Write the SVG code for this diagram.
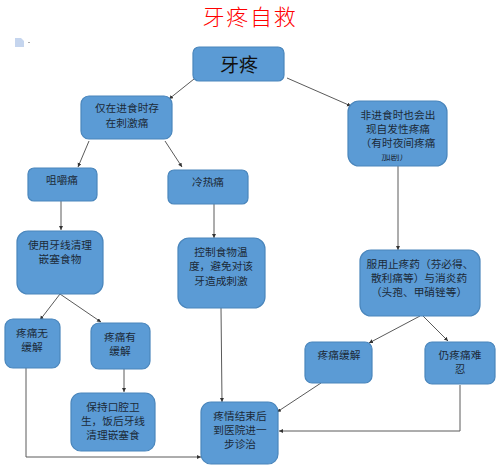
<svg xmlns="http://www.w3.org/2000/svg" width="500" height="469" viewBox="0 0 500 469">
<style>
.n{fill:#5B9BD5;stroke:#4A86BC;stroke-width:1.2}
.t{font-family:"Noto Sans CJK SC","Liberation Sans",sans-serif;font-size:10.7px;fill:#1c2a38;text-anchor:middle}
.c{fill:none;stroke:#5a5a5a;stroke-width:1;marker-end:url(#a)}
</style>
<defs>
<marker id="a" markerUnits="userSpaceOnUse" markerWidth="5" markerHeight="5" refX="4" refY="2" orient="auto"><path d="M0,0L4,2L0,4Z" fill="#333"/></marker>
<clipPath id="clip"><rect x="348" y="154.5" width="99" height="8"/></clipPath>
</defs>
<rect width="500" height="469" fill="#fff"/>
<text x="250" y="25" font-family="Noto Sans CJK SC,sans-serif" font-size="22" font-weight="300" fill="#f00" text-anchor="middle" letter-spacing="1.7">牙疼自救</text>
<g id="icon"><path d="M15,38H21L24,41V47H15Z" fill="#c5d5ee"/><rect x="28" y="42" width="2" height="1" fill="#aaa"/></g>
<g id="connectors">
<path class="c" d="M194,79L169,99"/>
<path class="c" d="M89,141L78,167"/>
<path class="c" d="M165,141L182,167"/>
<path class="c" d="M61,201V230"/>
<path class="c" d="M214,203V238"/>
<path class="c" d="M287,78L351,106"/>
<path class="c" d="M398,166V250"/>
<path class="c" d="M60,294L40,320"/>
<path class="c" d="M60,294L101,322"/>
<path class="c" d="M124,369V392"/>
<path class="c" d="M221,308L222,402"/>
<path class="c" d="M26,367V457H201"/>
<path class="c" d="M420,316L369,343"/>
<path class="c" d="M423,316L448,341"/>
<path class="c" d="M321,383L277,412"/>
<path class="c" d="M460,385V431H279"/>
</g>
<g id="n1"><rect class="n" x="193" y="47" width="91" height="34" rx="6"/><text x="239" y="72" font-family="Noto Sans CJK SC,sans-serif" font-size="19" fill="#111" text-anchor="middle">牙疼</text></g>
<g id="n2"><rect class="n" x="81" y="96" width="91" height="43" rx="8"/><text class="t" x="127" y="112">仅在进食时存</text><text class="t" x="127" y="127">在刺激痛</text></g>
<g id="n3"><rect class="n" x="28" y="168" width="69" height="33" rx="6"/><text class="t" x="62" y="184">咀嚼痛</text></g>
<g id="n4"><rect class="n" x="168" y="170" width="80" height="34" rx="6"/><text class="t" x="208" y="186">冷热痛</text></g>
<g id="n5"><rect class="n" x="348" y="101" width="99" height="65" rx="11"/><text class="t" x="398" y="119">非进食时也会出</text><text class="t" x="398" y="133">现自发性疼痛</text><text class="t" x="398" y="147">（有时夜间疼痛</text><g clip-path="url(#clip)"><text class="t" style="font-size:9px" x="395" y="160">加剧）</text></g></g>
<g id="n6"><rect class="n" x="17" y="231" width="86" height="63" rx="11"/><text class="t" x="60" y="249">使用牙线清理</text><text class="t" x="60" y="263">嵌塞食物</text></g>
<g id="n7"><rect class="n" x="5" y="319" width="55" height="49" rx="8"/><text class="t" x="32" y="337">疼痛无</text><text class="t" x="32" y="351">缓解</text></g>
<g id="n8"><rect class="n" x="91" y="323" width="59" height="46" rx="8"/><text class="t" x="120" y="341">疼痛有</text><text class="t" x="120" y="355">缓解</text></g>
<g id="n9"><rect class="n" x="71" y="393" width="84" height="58" rx="10"/><text class="t" x="113" y="411">保持口腔卫</text><text class="t" x="113" y="425">生，饭后牙线</text><text class="t" x="113" y="439">清理嵌塞食</text></g>
<g id="n10"><rect class="n" x="178" y="238" width="87" height="70" rx="11"/><text class="t" x="221" y="256">控制食物温</text><text class="t" x="221" y="270">度，避免对该</text><text class="t" x="221" y="285">牙造成刺激</text></g>
<g id="n11"><rect class="n" x="201" y="402" width="77" height="62" rx="10"/><text class="t" x="240" y="420">疼情结束后</text><text class="t" x="240" y="434">到医院进一</text><text class="t" x="240" y="448">步诊治</text></g>
<g id="n12"><rect class="n" x="360" y="250" width="120" height="66" rx="11"/><text class="t" x="420" y="268">服用止疼药（芬必得、</text><text class="t" x="419" y="282">散利痛等）与消炎药</text><text class="t" x="419" y="296">（头孢、甲硝锉等）</text></g>
<g id="n13"><rect class="n" x="305" y="342" width="67" height="41" rx="7"/><text class="t" x="339" y="359">疼痛缓解</text></g>
<g id="n14"><rect class="n" x="425" y="342" width="70" height="42" rx="7"/><text class="t" x="460" y="359">仍疼痛难</text><text class="t" x="460" y="373">忍</text></g>
</svg>
